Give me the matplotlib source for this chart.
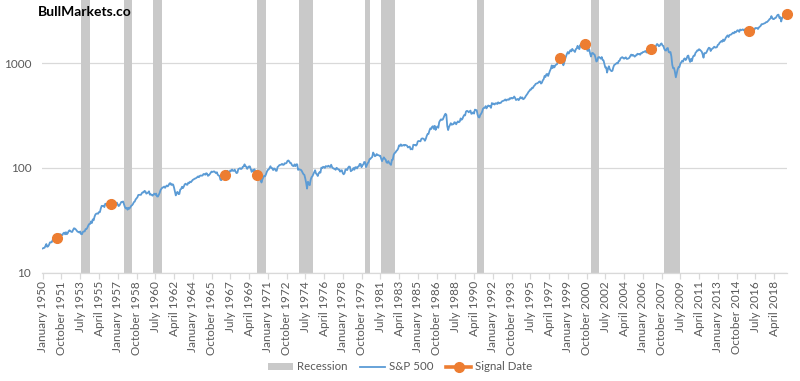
import matplotlib
matplotlib.use("Agg")
import matplotlib.pyplot as plt
from matplotlib.lines import Line2D
from matplotlib.patches import Patch

# ---------------- data ----------------
start_year = 1950  # series starts January 1950, monthly

sp500 = [
    17.05, 17.22, 17.29, 17.96, 18.78, 17.69, 17.84, 18.42, 19.45, 19.53, 19.51, 20.41,  # 1950
    21.66, 21.80, 21.40, 22.43, 21.52, 20.96, 22.40, 23.28, 23.26, 22.94, 22.88, 23.77,  # 1951
    24.14, 23.26, 24.37, 23.32, 23.86, 24.96, 25.40, 25.03, 24.54, 24.52, 25.66, 26.57,  # 1952
    26.38, 25.90, 25.29, 24.62, 24.54, 24.14, 24.75, 23.32, 23.35, 24.54, 24.76, 24.81,  # 1953
    26.08, 26.15, 26.94, 28.26, 29.19, 29.21, 30.88, 29.83, 32.31, 31.68, 34.24, 35.98,  # 1954
    36.63, 36.76, 36.58, 37.96, 37.91, 41.03, 43.52, 43.18, 43.67, 42.34, 45.51, 45.48,  # 1955
    43.82, 45.34, 48.48, 48.38, 45.20, 46.97, 49.39, 47.51, 45.35, 45.58, 45.08, 46.67,  # 1956
    44.72, 43.26, 44.11, 45.74, 47.43, 47.37, 47.91, 45.22, 42.42, 41.06, 41.72, 39.99,  # 1957
    41.70, 40.84, 42.10, 43.44, 44.09, 45.24, 47.19, 47.75, 50.06, 51.33, 52.48, 55.21,  # 1958
    55.42, 55.41, 55.44, 57.59, 58.68, 58.47, 60.51, 59.60, 56.88, 57.52, 58.28, 59.89,  # 1959
    55.61, 56.12, 55.34, 54.37, 55.83, 56.92, 55.51, 56.96, 53.52, 53.39, 55.54, 58.11,  # 1960
    61.78, 63.44, 65.06, 65.31, 66.56, 64.64, 66.76, 68.07, 66.73, 68.62, 71.32, 71.55,  # 1961
    68.84, 69.96, 69.55, 65.24, 59.63, 54.75, 58.23, 59.12, 56.27, 56.52, 62.26, 63.10,  # 1962
    66.20, 64.29, 66.57, 69.80, 70.80, 69.37, 69.13, 72.50, 71.70, 74.01, 73.23, 75.02,  # 1963
    77.04, 77.80, 78.98, 79.46, 80.37, 81.69, 83.18, 81.83, 84.18, 84.86, 84.42, 84.75,  # 1964
    87.56, 87.43, 86.16, 89.11, 88.42, 84.12, 85.25, 87.17, 89.96, 92.42, 91.61, 92.43,  # 1965
    92.88, 91.22, 89.23, 91.06, 86.13, 84.74, 83.60, 77.10, 76.56, 80.20, 80.45, 80.33,  # 1966
    86.61, 86.78, 90.20, 94.01, 89.08, 90.64, 94.75, 93.64, 96.71, 93.90, 94.00, 96.47,  # 1967
    92.24, 89.36, 90.20, 97.59, 98.68, 99.58, 97.74, 98.86, 102.67, 103.41, 108.37, 103.86,  # 1968
    103.01, 98.13, 101.51, 103.69, 103.46, 97.71, 91.83, 95.51, 93.12, 97.24, 93.81, 92.06,  # 1969
    85.02, 89.50, 89.63, 81.52, 76.55, 72.72, 78.05, 81.52, 84.21, 83.25, 87.20, 92.15,  # 1970
    95.88, 96.75, 100.31, 103.95, 99.63, 99.70, 95.58, 99.03, 98.34, 94.23, 93.99, 102.09,  # 1971
    103.94, 106.57, 107.20, 107.67, 109.53, 107.14, 107.39, 111.09, 110.55, 111.58, 116.67, 118.05,  # 1972
    116.03, 111.68, 111.52, 106.97, 104.95, 104.26, 108.22, 104.25, 108.43, 108.29, 95.96, 97.55,  # 1973
    96.57, 96.22, 93.98, 90.31, 87.28, 86.00, 79.31, 72.15, 63.54, 73.90, 69.97, 68.56,  # 1974
    76.98, 81.59, 83.36, 87.30, 91.15, 95.19, 88.75, 86.88, 83.87, 89.04, 91.24, 90.19,  # 1975
    100.86, 99.71, 102.77, 101.64, 100.18, 104.28, 103.44, 102.91, 105.24, 102.90, 102.10, 107.46,  # 1976
    102.03, 99.82, 98.42, 98.44, 96.12, 100.48, 98.85, 96.77, 96.53, 92.34, 94.83, 95.10,  # 1977
    89.25, 87.04, 89.21, 96.83, 97.24, 95.53, 100.68, 103.29, 102.54, 93.15, 94.70, 96.11,  # 1978
    99.93, 96.28, 101.59, 101.76, 99.08, 102.91, 103.81, 109.32, 109.32, 101.82, 106.16, 107.94,  # 1979
    114.16, 113.66, 102.09, 106.29, 111.24, 114.24, 121.67, 122.38, 125.46, 127.47, 140.52, 135.76,  # 1980
    129.55, 131.27, 136.00, 132.81, 132.59, 131.21, 130.92, 122.79, 116.18, 121.89, 126.35, 122.55,  # 1981
    120.40, 113.11, 111.96, 116.44, 111.88, 109.61, 107.09, 119.51, 120.42, 133.71, 138.54, 140.64,  # 1982
    145.30, 148.06, 152.96, 164.42, 162.39, 168.11, 162.56, 164.40, 166.07, 163.55, 166.40, 164.93,  # 1983
    163.41, 157.06, 159.18, 160.05, 150.55, 153.18, 150.66, 166.68, 166.10, 166.09, 163.58, 167.24,  # 1984
    179.63, 181.18, 180.66, 179.83, 189.55, 191.85, 190.92, 188.63, 182.08, 189.82, 202.17, 211.28,  # 1985
    211.78, 226.92, 238.90, 235.52, 247.35, 250.84, 236.12, 252.93, 231.32, 243.98, 249.22, 242.17,  # 1986
    274.08, 284.20, 291.70, 288.36, 290.10, 304.00, 318.66, 329.80, 321.83, 251.79, 230.30, 247.08,  # 1987
    257.07, 267.82, 258.89, 261.33, 262.16, 273.50, 272.02, 261.52, 271.91, 278.97, 273.70, 277.72,  # 1988
    297.47, 288.86, 294.87, 309.64, 320.52, 317.98, 346.08, 351.45, 349.15, 340.36, 345.99, 353.40,  # 1989
    329.08, 331.89, 339.94, 330.80, 361.23, 358.02, 356.15, 322.56, 306.05, 304.00, 322.22, 330.22,  # 1990
    343.93, 367.07, 375.22, 375.34, 389.83, 371.16, 387.81, 395.43, 387.86, 392.46, 375.22, 417.09,  # 1991
    408.79, 412.70, 403.69, 414.95, 415.35, 408.14, 424.21, 414.03, 417.80, 418.68, 431.35, 435.71,  # 1992
    438.78, 443.38, 451.67, 440.19, 450.19, 450.53, 448.13, 463.56, 458.93, 467.83, 461.79, 466.45,  # 1993
    481.61, 467.14, 445.77, 450.91, 456.50, 444.27, 458.26, 475.49, 462.69, 472.35, 453.69, 459.27,  # 1994
    470.42, 487.39, 500.71, 514.71, 533.40, 544.75, 562.06, 561.88, 584.41, 581.50, 605.37, 615.93,  # 1995
    636.02, 640.43, 645.50, 654.17, 669.12, 670.63, 639.95, 651.99, 687.31, 705.27, 757.02, 740.74,  # 1996
    786.16, 790.82, 757.12, 801.34, 848.28, 885.14, 954.29, 899.47, 947.28, 914.62, 955.40, 970.43,  # 1997
    980.28, 1049.34, 1101.75, 1111.75, 1090.82, 1133.84, 1120.67, 957.28, 1017.01, 1098.67, 1163.63, 1229.23,  # 1998
    1279.64, 1238.33, 1286.37, 1335.18, 1301.84, 1372.71, 1328.72, 1320.41, 1282.71, 1362.93, 1388.91, 1469.25,  # 1999
    1394.46, 1366.42, 1498.58, 1452.43, 1420.60, 1454.60, 1430.83, 1517.68, 1436.51, 1429.40, 1314.95, 1320.28,  # 2000
    1366.01, 1239.94, 1160.33, 1249.46, 1255.82, 1224.42, 1211.23, 1133.58, 1040.94, 1059.78, 1139.45, 1148.08,  # 2001
    1130.20, 1106.73, 1147.39, 1076.92, 1067.14, 989.82, 911.62, 916.07, 815.28, 885.76, 936.31, 879.82,  # 2002
    855.70, 841.15, 848.18, 916.92, 963.59, 974.50, 990.31, 1008.01, 995.97, 1050.71, 1058.20, 1111.92,  # 2003
    1131.13, 1144.94, 1126.21, 1107.30, 1120.68, 1140.84, 1101.72, 1104.24, 1114.58, 1130.20, 1173.82, 1211.92,  # 2004
    1181.27, 1203.60, 1180.59, 1156.85, 1191.50, 1191.33, 1234.18, 1220.33, 1228.81, 1207.01, 1249.48, 1248.29,  # 2005
    1280.08, 1280.66, 1294.83, 1310.61, 1270.09, 1270.20, 1276.66, 1303.82, 1335.85, 1377.94, 1400.63, 1418.30,  # 2006
    1438.24, 1406.82, 1420.86, 1482.37, 1530.62, 1503.35, 1455.27, 1473.99, 1526.75, 1549.38, 1481.14, 1468.36,  # 2007
    1378.55, 1330.63, 1322.70, 1385.59, 1400.38, 1280.00, 1267.38, 1282.83, 1166.36, 968.75, 896.24, 903.25,  # 2008
    825.88, 735.09, 797.87, 872.81, 919.14, 919.32, 987.48, 1020.62, 1057.08, 1036.19, 1095.63, 1115.10,  # 2009
    1073.87, 1104.49, 1169.43, 1186.69, 1089.41, 1030.71, 1101.60, 1049.33, 1141.20, 1183.26, 1180.55, 1257.64,  # 2010
    1286.12, 1327.22, 1325.83, 1363.61, 1345.20, 1320.64, 1292.28, 1218.89, 1131.42, 1253.30, 1246.96, 1257.60,  # 2011
    1312.41, 1365.68, 1408.47, 1397.91, 1310.33, 1362.16, 1379.32, 1406.58, 1440.67, 1412.16, 1416.18, 1426.19,  # 2012
    1498.11, 1514.68, 1569.19, 1597.57, 1630.74, 1606.28, 1685.73, 1632.97, 1681.55, 1756.54, 1805.81, 1848.36,  # 2013
    1782.59, 1859.45, 1872.34, 1883.95, 1923.57, 1960.23, 1930.67, 2003.37, 1972.29, 2018.05, 2067.56, 2058.90,  # 2014
    1994.99, 2104.50, 2067.89, 2085.51, 2107.39, 2063.11, 2103.84, 1972.18, 1920.03, 2079.36, 2080.41, 2043.94,  # 2015
    1940.24, 1932.23, 2059.74, 2065.30, 2096.95, 2098.86, 2173.60, 2170.95, 2168.27, 2126.15, 2198.81, 2238.83,  # 2016
    2278.87, 2363.64, 2362.72, 2384.20, 2411.80, 2423.41, 2470.30, 2471.65, 2519.36, 2575.26, 2647.58, 2673.61,  # 2017
    2823.81, 2713.83, 2640.87, 2648.05, 2705.27, 2718.37, 2816.29, 2901.52, 2913.98, 2711.74, 2760.17, 2506.85,  # 2018
    2704.10, 2784.49, 2834.40, 2945.83, 2752.06, 2941.76,  # 2019
]

tick_labels = [
    "January 1950", "October 1951", "July 1953", "April 1955", "January 1957",
    "October 1958", "July 1960", "April 1962", "January 1964", "October 1965",
    "July 1967", "April 1969", "January 1971", "October 1972", "July 1974",
    "April 1976", "January 1978", "October 1979", "July 1981", "April 1983",
    "January 1985", "October 1986", "July 1988", "April 1990", "January 1992",
    "October 1993", "July 1995", "April 1997", "January 1999", "October 2000",
    "July 2002", "April 2004", "January 2006", "October 2007", "July 2009",
    "April 2011", "January 2013", "October 2014", "July 2016", "April 2018",
]
tick_step_months = 21

# NBER recessions (peak month, trough month)
recessions = [
    ("1953-07", "1954-05"), ("1957-08", "1958-04"), ("1960-04", "1961-02"),
    ("1969-12", "1970-11"), ("1973-11", "1975-03"), ("1980-01", "1980-07"),
    ("1981-07", "1982-11"), ("1990-07", "1991-03"), ("2001-03", "2001-11"),
    ("2007-12", "2009-06"),
]

signal_dates = ["1951-05", "1956-05", "1967-01", "1970-01", "1998-04",
                "2000-08", "2006-10", "2015-12", "2019-06"]

y_ticks = [10, 100, 1000]
y_tick_labels = ["10", "100", "1000"]


def month_index(s):
    y, m = s.split("-")
    return (int(y) - start_year) * 12 + int(m) - 1


# ---------------- styling ----------------
plt.rcParams["font.family"] = ["Lato", "DejaVu Sans"]
TEXT = "#595959"
GRID = "#D9D9D9"
BLUE = "#5B9BD5"
ORANGE = "#ED7D31"
REC = "#C9C9C9"

W, H = 800, 381
fig = plt.figure(figsize=(W / 100, H / 100), dpi=100)
left_px, right_px, bottom_px, top_px = 42.3, 787.0, 272.7, 0.0
ax = fig.add_axes([left_px / W, 1 - bottom_px / H,
                   (right_px - left_px) / W, (bottom_px - top_px) / H])

n = len(sp500)
x = list(range(n))

ax.set_yscale("log")
ymax = 10 ** (1 + 272.7 / 104.7)
ax.set_ylim(10, ymax)
ax.set_xlim(-0.5, n - 0.5)

for a, b in recessions:
    ax.axvspan(month_index(a) + 0.5, month_index(b) + 0.5, color=REC, lw=0, zorder=1)

ax.plot(x, sp500, color=BLUE, lw=1.3, zorder=3, solid_joinstyle="round")

sx = [month_index(d) for d in signal_dates]
sy = [sp500[i] for i in sx]
ax.plot(sx, sy, ls="none", marker="o", ms=7, color=ORANGE, mec=ORANGE, zorder=4,
        clip_on=False)

# axes styling
for s in ["top", "right", "left"]:
    ax.spines[s].set_visible(False)
ax.spines["bottom"].set_color(GRID)
ax.spines["bottom"].set_linewidth(0.9)
ax.set_yticks(y_ticks)
ax.set_yticklabels(y_tick_labels)
ax.yaxis.set_minor_locator(matplotlib.ticker.NullLocator())
ax.tick_params(axis="y", length=0, pad=8, labelsize=8.5, labelcolor=TEXT)
ax.grid(axis="y", which="major", color=GRID, lw=0.9, zorder=0)
ax.set_axisbelow(True)

xt = [i * tick_step_months for i in range(len(tick_labels))]
ax.set_xticks(xt)
ax.set_xticklabels(tick_labels, rotation=90, fontsize=8.5, color=TEXT)
ax.tick_params(axis="x", length=4, color=GRID, width=0.9, pad=2)

fig.text(37.5 / W, 1 - 12 / H, "BullMarkets.co", fontsize=10, fontweight="bold",
         color="black", va="center", ha="left")

handles = [
    Patch(facecolor=REC, edgecolor="none"),
    Line2D([0], [0], color=BLUE, lw=1.3),
    Line2D([0], [0], color=ORANGE, lw=2.6, marker="o", ms=7),
]
leg = fig.legend(handles, ["Recession", "S&P 500", "Signal Date"],
                 loc="center", bbox_to_anchor=(400 / W, 1 - 367 / H), ncol=3,
                 frameon=False, fontsize=8.3, handlelength=2.2, handleheight=0.6,
                 handletextpad=0.3, columnspacing=1.1, labelcolor=TEXT)

fig.savefig("out.png", dpi=100)
